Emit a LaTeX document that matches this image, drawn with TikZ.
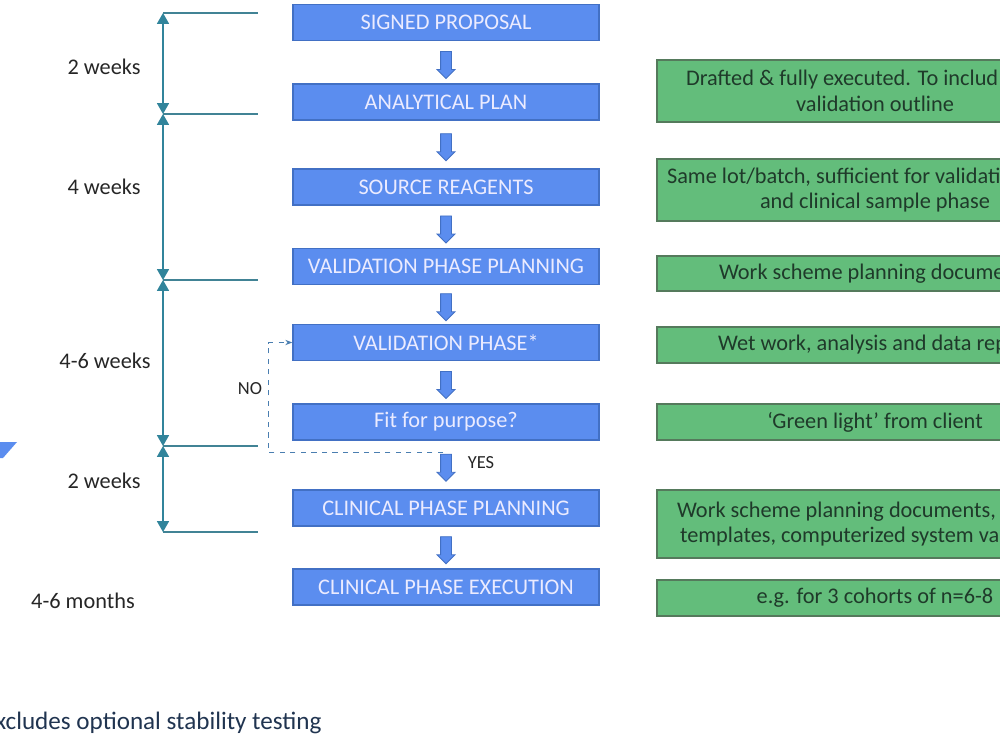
\documentclass[tikz,border=0pt]{standalone}
\usepackage{fontspec}
\setmainfont{Carlito}
\usepackage{tikz}
\usetikzlibrary{arrows.meta, positioning, shapes.arrows, calc}

\definecolor{stepblue}{HTML}{5B8DEF}
\definecolor{stepedge}{HTML}{4270C4}
\definecolor{notegreen}{HTML}{63BD7B}
\definecolor{noteedge}{HTML}{557A5C}
\definecolor{notetext}{HTML}{1F3A2A}
\definecolor{spanteal}{HTML}{31849B}
\definecolor{loopblue}{HTML}{4A7EB0}
\definecolor{foottext}{HTML}{203450}

\begin{document}
\begin{tikzpicture}[
    x=0.02cm, y=-0.02cm,
    font=\fontsize{12.7}{14.7}\selectfont,
    phase/.style={rectangle, draw=stepedge, fill=stepblue, text=white!92!blue,
                  minimum width=6.12cm, minimum height=0.72cm,
                  inner sep=0pt, line width=0.8pt},
    note/.style={rectangle, draw=noteedge, fill=notegreen, text=notetext,
                 minimum width=8.72cm, minimum height=0.72cm, align=center,
                 inner sep=0pt, line width=0.8pt},
    down/.style={single arrow, draw=stepedge, fill=stepblue, rotate=-90,
                 minimum height=0.54cm, inner sep=0.1cm,
                 single arrow head extend=0.07cm, line width=0.5pt},
    span/.style={{Triangle[width=6.8pt,length=6.2pt]}-{Triangle[width=6.8pt,length=6.2pt]},
                 spanteal, line width=1pt},
    tick/.style={spanteal!80!gray, line width=0.8pt},
    loop/.style={-{Stealth[length=4pt]}, dashed, loopblue, line width=0.8pt},
    dur/.style={text=black!85},
    small/.style={text=black!85, font=\fontsize{10.5}{12}\selectfont},
]
\useasboundingbox (0,0) rectangle (1000,750);
\clip (0,0) rectangle (1000,750);

% phases
\node[phase] (sp)  at (446,22.5) {SIGNED PROPOSAL};
\node[phase] (ap)  at (446,102)  {ANALYTICAL PLAN};
\node[phase] (sr)  at (446,187)  {SOURCE REAGENTS};
\node[phase] (vpp) at (446,266.5) {VALIDATION PHASE PLANNING};
\node[phase] (vp)  at (446,342.5) {VALIDATION PHASE*};
\node[phase] (fit) at (446,422)  {Fit for purpose?};
\node[phase] (cpp) at (446,508)  {CLINICAL PHASE PLANNING};
\node[phase] (cpe) at (446,587)  {CLINICAL PHASE EXECUTION};

\foreach \a/\b in {sp/ap, ap/sr, sr/vpp, vpp/vp, vp/fit, fit/cpp, cpp/cpe}
    \node[down] (\a-\b) at ($(\a.south)!0.5!(\b.north)$) {};

% loop back
\draw[loop] ([xshift=-0.06cm,yshift=-0.24cm]fit.south) -| ([xshift=-0.48cm]vp.west) -- (vp.west);
\node[small] (no)  at (250,389) {NO};
\node[small] (yes) at (481,463) {YES};

% notes
\node[note, minimum height=1.24cm] (n1) at (875,91)
    {\makebox[7.56cm][l]{Drafted \& fully executed. To includ}\\validation outline};
\node[note, minimum height=1.24cm] (n2) at (875,190)
    {\makebox[8.32cm][l]{Same lot/batch, sufficient for validati}\\and clinical sample phase};
\node[note, minimum height=0.7cm] (n3) at (875,273.5)
    {\makebox[6.24cm][l]{Work scheme planning docume}};
\node[note] (n4) at (875,345)
    {\makebox[6.28cm][l]{Wet work, analysis and data rep}};
\node[note] (n5) at (875,422) {`Green light' from client};
\node[note, minimum height=1.36cm] (n6) at (875,524)
    {\makebox[7.92cm][l]{Work scheme planning documents,}\\\makebox[7.8cm][l]{templates, computerized system va}};
\node[note] (n7) at (875,598) {e.g. for 3 cohorts of n=6-8};

% timeline
\coordinate (t0) at (163,13);
\coordinate (t1) at (163,114);
\coordinate (t2) at (163,280);
\coordinate (t3) at (163,446);
\coordinate (t4) at (163,532);
\foreach \t in {t0,t1,t2,t3,t4}
    \draw[tick] (\t) -- ++(95,0);
\foreach \a/\b in {t0/t1, t1/t2, t2/t3, t3/t4}
    \draw[span] (\a) -- (\b);

\node[dur] (d1) at (104,67)  {2 weeks};
\node[dur] (d2) at (104,187) {4 weeks};
\node[dur] (d3) at (105,361) {4-6 weeks};
\node[dur] (d4) at (104,481) {2 weeks};
\node[dur] (d5) at (83,601)  {4-6 months};

% cut-off pieces at the edges
\fill[stepblue] (0,442) -- (17,442) -- (3,458) -- (0,458) -- cycle;
\node[anchor=base west, inner sep=0pt, text=foottext, font=\fontsize{14.3}{17}\selectfont]
    (foot) at (-5,729) {xcludes optional stability testing};
\end{tikzpicture}
\end{document}
